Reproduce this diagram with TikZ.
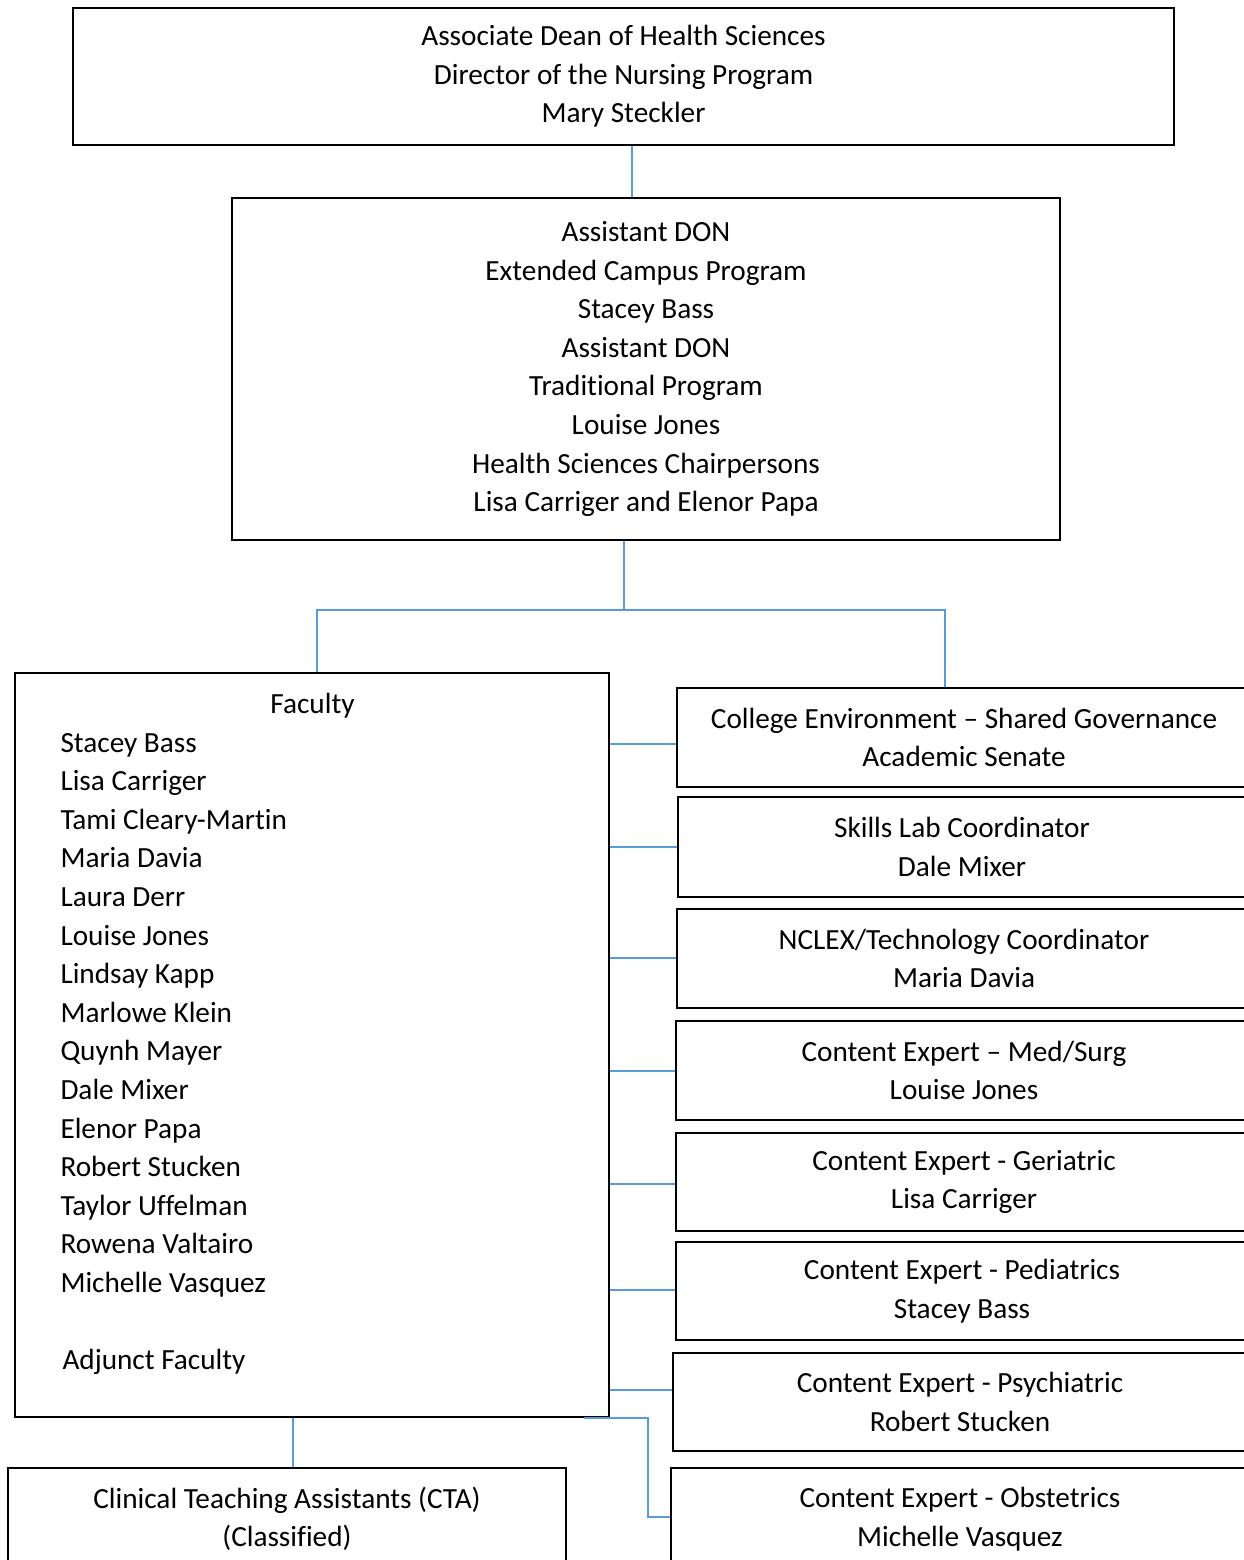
\documentclass[tikz,border=0pt]{standalone}
\usepackage{fontspec}
\setmainfont{Carlito}[Ligatures=NoCommon, Contextuals=NoAlternate]
\definecolor{linkblue}{HTML}{5B9BD5}
\tikzset{
  orgbox/.style={draw=black, line width=0.8pt, inner sep=0pt, align=center,
    font={\fontsize{11.7}{15.44}\selectfont}},
  orgtext/.style={inner sep=0pt, font={\fontsize{11.7}{15.44}\selectfont}},
  orgline/.style={draw=linkblue, line width=0.6pt}
}
\begin{document}
\begin{tikzpicture}[x=0.4pt,y=-0.4pt]
    \useasboundingbox (0,0) rectangle (1244,1560);

    % top of the chart
    \node[orgbox, minimum width=440.4pt, minimum height=54.8pt] (dean) at (623.5,76.5)
        {Associate Dean of Health Sciences\\Director of the Nursing Program\\Mary Steckler};
    \node[orgbox, minimum width=331.2pt, minimum height=136.8pt] (asst) at (646,369)
        {Assistant DON\\Extended Campus Program\\Stacey Bass\\Assistant DON\\Traditional Program\\Louise Jones\\Health Sciences Chairpersons\\Lisa Carriger and Elenor Papa};

    % faculty
    \node[orgbox, minimum width=237.6pt, minimum height=297.6pt] (fac) at (312,1045) {};
    \node[orgtext, anchor=north west] (facnames) at (60,686) {
        \begin{tabular}{@{}p{201.6pt}@{}}
            \multicolumn{1}{@{}c@{}}{Faculty} \\
            Stacey Bass \\
            Lisa Carriger \\
            Tami Cleary-Martin \\
            Maria Davia \\
            Laura Derr \\
            Louise Jones \\
            Lindsay Kapp \\
            Marlowe Klein \\
            Quynh Mayer \\
            Dale Mixer \\
            Elenor Papa \\
            Robert Stucken \\
            Taylor Uffelman \\
            Rowena Valtairo \\
            Michelle Vasquez \\
            \\
            \hspace{0.8pt}Adjunct Faculty
        \end{tabular}
    };

    % roles on the right
    \node[orgbox, minimum width=229.6pt, minimum height=39.6pt] (cenv) at (964,737.5)
        {College Environment – Shared Governance\\Academic Senate};
    \node[orgbox, minimum width=227.2pt, minimum height=40pt] (skills) at (962,847)
        {Skills Lab Coordinator\\Dale Mixer};
    \node[orgbox, minimum width=229.6pt, minimum height=39.6pt] (nclex) at (964,958.5)
        {NCLEX/Technology Coordinator\\Maria Davia};
    \node[orgbox, minimum width=230.4pt, minimum height=39.6pt] (medsurg) at (964,1070.5)
        {Content Expert – Med/Surg\\Louise Jones};
    \node[orgbox, minimum width=230.4pt, minimum height=39.2pt] (geri) at (964,1182)
        {Content Expert - Geriatric\\Lisa Carriger};
    \node[orgbox, minimum width=228.8pt, minimum height=39.2pt] (peds) at (962,1291)
        {Content Expert - Pediatrics\\Stacey Bass};
    \node[orgbox, minimum width=229.6pt, minimum height=39.2pt] (psych) at (960,1402)
        {Content Expert - Psychiatric\\Robert Stucken};
    \node[orgbox, minimum width=231.2pt, minimum height=40.8pt] (obst) at (960,1519)
        {Content Expert - Obstetrics\\Michelle Vasquez};

    \node[orgbox, minimum width=223.2pt, minimum height=40.8pt] (cta) at (287,1519)
        {Clinical Teaching Assistants (CTA)\\(Classified)};

    % connectors
    \coordinate (deanx) at (632,0);
    \coordinate (split) at (624,610);
    \coordinate (splitl) at (317,610);
    \coordinate (splitr) at (945,610);
    \coordinate (ctax) at (293,0);
    \coordinate (obstk) at (648,1517);

    \draw[orgline] (dean.south -| deanx) -- (asst.north -| deanx);
    \draw[orgline] (asst.south -| split) -- (split);
    \draw[orgline] (splitl |- fac.north) -- (splitl) -- (splitr) -- (splitr |- cenv.north);

    \foreach \role/\ry in {cenv/744, skills/847, nclex/958, medsurg/1071,
                           geri/1184, peds/1290, psych/1390} {
        \coordinate (tap) at (0,\ry);
        \draw[orgline] (fac.east |- tap) -- (\role.west |- tap);
    }

    \draw[orgline] ([xshift=-10.4pt]fac.south east) -| (obstk) -- (obstk -| obst.west);
    \draw[orgline] (fac.south -| ctax) -- (cta.north -| ctax);

\end{tikzpicture}
\end{document}
